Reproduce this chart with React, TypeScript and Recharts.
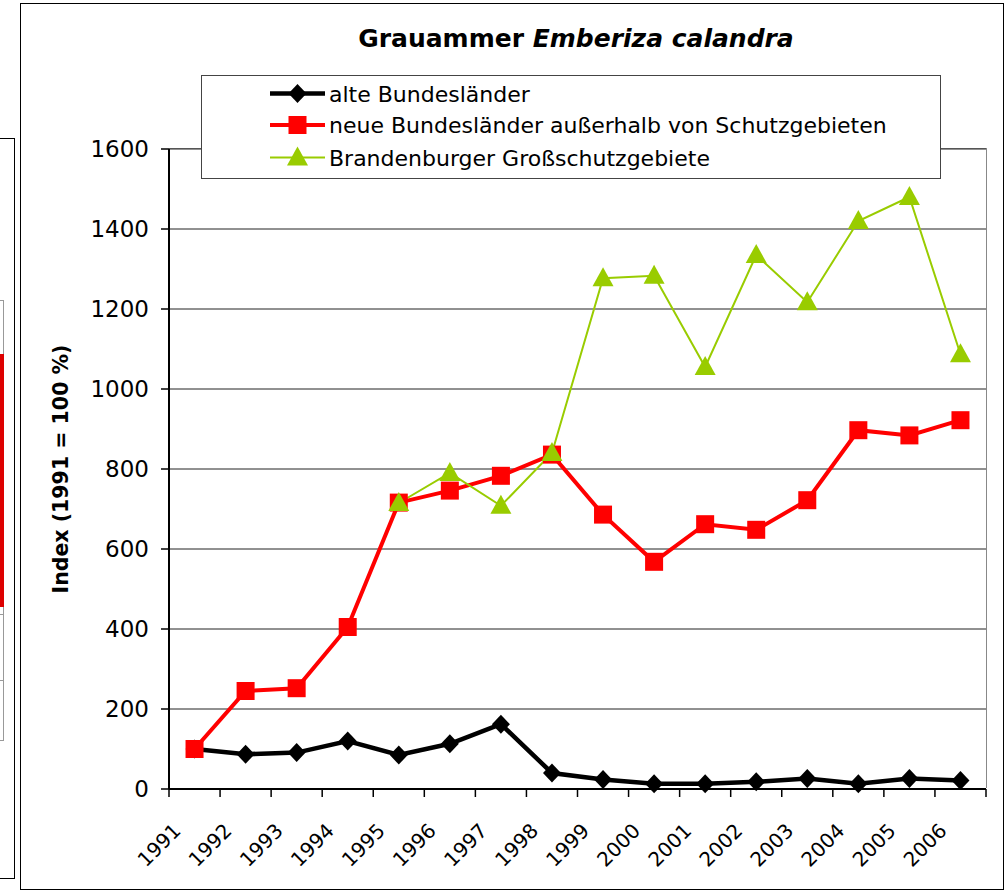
import { CartesianGrid, Legend, Line, LineChart, XAxis, YAxis } from "recharts";

const years = [
  "1991", "1992", "1993", "1994", "1995", "1996", "1997", "1998",
  "1999", "2000", "2001", "2002", "2003", "2004", "2005", "2006"
];
const alteBundeslaender = [100, 87, 91, 120, 85, 113, 162, 40, 24, 13, 13, 18, 26, 13, 26, 21];
const neueBundeslaender = [100, 245, 252, 405, 716, 746, 783, 836, 686, 568, 662, 648, 722, 897, 884, 922];
const brandenburg = [null, null, null, null, 715, 790, 708, 840, 1277, 1283, 1055, 1335, 1217, 1420, 1480, 1087];
const yTicks = [0, 200, 400, 600, 800, 1000, 1200, 1400, 1600];

const FONT = '"DejaVu Sans", Arial, sans-serif';
const PLOT_LEFT = 169;
const PLOT_RIGHT = 986;
const PLOT_TOP = 149;
const PLOT_BOTTOM = 789;
const BAND = (PLOT_RIGHT - PLOT_LEFT) / years.length;

const data = years.map((year, i) => ({
  year,
  pos: i + 0.5,
  alte: alteBundeslaender[i],
  neue: neueBundeslaender[i],
  brandenburg: brandenburg[i]
}));
const xTicks = Array.from({ length: years.length + 1 }, (_, i) => i);

const series = [
  { key: "alte", name: "alte Bundesländer", color: "#000000", width: 4.5, marker: "diamond" },
  { key: "neue", name: "neue Bundesländer außerhalb von Schutzgebieten", color: "#ff0000", width: 4, marker: "square" },
  { key: "brandenburg", name: "Brandenburger Großschutzgebiete", color: "#99cc00", width: 2, marker: "triangle" }
];

function Marker({ type, x, y, color }: { type: string; x: number; y: number; color: string }) {
  if (type === "diamond") {
    return <path d={`M${x} ${y - 9.5}L${x + 9} ${y}L${x} ${y + 9.5}L${x - 9} ${y}Z`} fill={color} />;
  }
  if (type === "square") {
    return <rect x={x - 9} y={y - 9} width={18} height={18} fill={color} />;
  }
  return <path d={`M${x} ${y - 11}L${x + 10.5} ${y + 8}L${x - 10.5} ${y + 8}Z`} fill={color} />;
}

function YearTick(props: any) {
  const { x, y, payload } = props;
  const label = years[payload.value];
  if (!label) return <g />;
  const ax = x + BAND / 2 - 12.5;
  const ay = y + 35;
  return (
    <text
      x={ax}
      y={ay}
      textAnchor="end"
      transform={`rotate(-45 ${ax} ${ay})`}
      fontFamily={FONT}
      fontSize={20}
      fill="#000"
    >
      {label}
    </text>
  );
}

function YLabel(props: any) {
  const vb = props.viewBox || { x: 0, y: PLOT_TOP, height: PLOT_BOTTOM - PLOT_TOP };
  const cx = vb.x + 60.5;
  const cy = vb.y + vb.height / 2;
  return (
    <text
      x={cx}
      y={cy}
      textAnchor="middle"
      dominantBaseline="central"
      transform={`rotate(-90 ${cx} ${cy})`}
      fontFamily={FONT}
      fontWeight="bold"
      fontSize={20.5}
      fill="#000"
    >
      Index (1991 = 100 %)
    </text>
  );
}

function LegendBox() {
  const rows = [25.5, 57, 89.5];
  return (
    <div
      style={{
        width: 740,
        height: 104,
        boxSizing: "border-box",
        border: "1.5px solid #444",
        background: "#fff"
      }}
    >
      <svg width={737} height={101} style={{ display: "block" }}>
        {series.map((s, i) => (
          <g key={s.key}>
            <line x1={68} x2={123} y1={rows[i] - 8} y2={rows[i] - 8} stroke={s.color} strokeWidth={s.width} />
            <Marker type={s.marker} x={95.5} y={rows[i] - 8} color={s.color} />
            <text x={127} y={rows[i]} fontFamily={FONT} fontSize={22} fill="#000">
              {s.name}
            </text>
          </g>
        ))}
      </svg>
    </div>
  );
}

export default function App() {
  return (
    <div
      style={{
        position: "absolute",
        left: 0,
        top: 0,
        width: 1007,
        height: 892,
        background: "#fff",
        overflow: "hidden"
      }}
    >
      {/* neighbouring chart cut off at the left edge */}
      <div style={{ position: "absolute", left: -1, top: 138, width: 16, height: 741, border: "1px solid #000", boxSizing: "border-box" }} />
      <div style={{ position: "absolute", left: -1, top: 300, width: 5, height: 441, border: "1px solid #999", boxSizing: "border-box" }} />
      <div style={{ position: "absolute", left: 0, top: 614, width: 4, height: 1, background: "#999" }} />
      <div style={{ position: "absolute", left: 0, top: 680, width: 4, height: 1, background: "#999" }} />
      <div style={{ position: "absolute", left: 0, top: 354, width: 4, height: 253, background: "#dd0000" }} />

      {/* chart frame and plot area border */}
      <div style={{ position: "absolute", left: 20, top: 3, width: 984, height: 887, border: "1px solid #000", boxSizing: "border-box" }} />
      <div
        style={{
          position: "absolute",
          left: PLOT_LEFT,
          top: PLOT_TOP - 1,
          width: PLOT_RIGHT - PLOT_LEFT + 1,
          height: PLOT_BOTTOM - PLOT_TOP,
          borderTop: "1.5px solid #888",
          borderRight: "1.5px solid #888",
          boxSizing: "border-box"
        }}
      />

      <svg width={1007} height={60} style={{ position: "absolute", left: 0, top: 0 }}>
        <text x={576} y={47} textAnchor="middle" fontFamily={FONT} fontWeight="bold" fontSize={25} fill="#000">
          Grauammer <tspan fontStyle="italic">Emberiza calandra</tspan>
        </text>
      </svg>

      <div style={{ position: "absolute", left: 0, top: 0 }}>
        <LineChart
          width={1007}
          height={892}
          data={data}
          margin={{ top: PLOT_TOP, right: 1007 - PLOT_RIGHT, bottom: 0, left: 0 }}
        >
          <CartesianGrid horizontal vertical={false} stroke="#222" strokeWidth={1} />
          <XAxis
            dataKey="pos"
            type="number"
            domain={[0, years.length]}
            ticks={xTicks}
            interval={0}
            height={892 - PLOT_BOTTOM}
            tickSize={8}
            tickMargin={0}
            tick={<YearTick />}
            axisLine={{ stroke: "#000", strokeWidth: 2 }}
            tickLine={{ stroke: "#000", strokeWidth: 1.5 }}
          />
          <YAxis
            type="number"
            domain={[0, 1600]}
            ticks={yTicks}
            interval={0}
            width={PLOT_LEFT}
            tickSize={8}
            tickMargin={12}
            tick={{ fontFamily: FONT, fontSize: 23, fill: "#000" }}
            axisLine={{ stroke: "#000", strokeWidth: 2 }}
            tickLine={{ stroke: "#000", strokeWidth: 1.5 }}
            label={<YLabel />}
          />
          <Legend
            layout="horizontal"
            verticalAlign="middle"
            align="center"
            content={() => <LegendBox />}
            wrapperStyle={{ position: "absolute", left: 201, top: 75, width: 740, height: 104 }}
          />
          {series.map((s) => (
            <Line
              key={s.key}
              dataKey={s.key}
              name={s.name}
              type="linear"
              stroke={s.color}
              strokeWidth={s.width}
              connectNulls={false}
              isAnimationActive={false}
              activeDot={false}
              dot={(p: any) =>
                p.cy == null || p.value == null ? (
                  <g key={`${s.key}-${p.index}`} />
                ) : (
                  <Marker key={`${s.key}-${p.index}`} type={s.marker} x={p.cx} y={p.cy} color={s.color} />
                )
              }
            />
          ))}
        </LineChart>
      </div>
    </div>
  );
}
